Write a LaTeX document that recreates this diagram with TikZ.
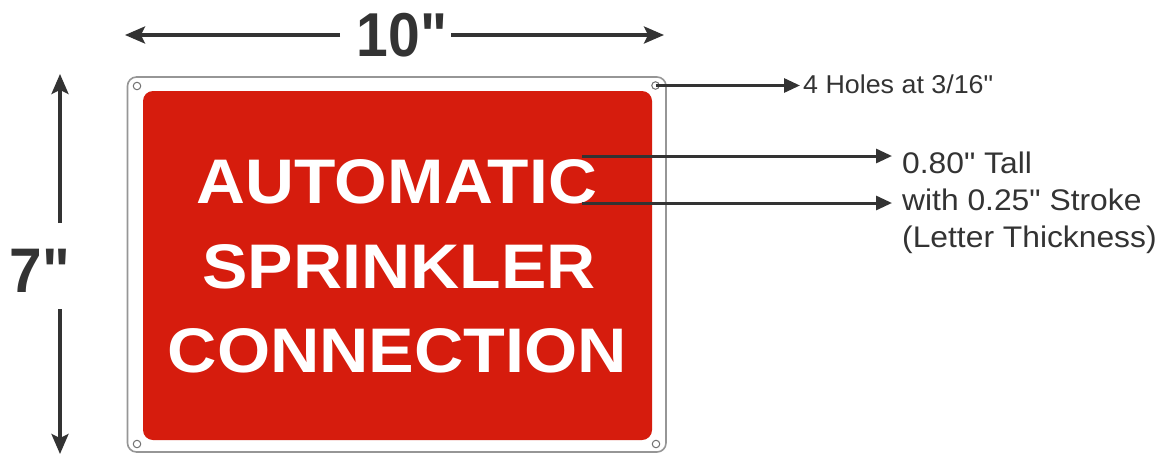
\documentclass[tikz,border=0pt]{standalone}
\usepackage{fontspec}
\setmainfont{Liberation Sans}[Ligatures=TeXOff]
\usetikzlibrary{arrows.meta}
\definecolor{signred}{RGB}{214,28,13}
\definecolor{ink}{RGB}{51,51,51}
\definecolor{rim}{RGB}{150,150,150}
\newcommand{\dq}{\symbol{34}}
\newcommand{\widen}[1]{\scalebox{1.067}[1]{#1}}
\tikzset{
  dimline/.style={draw=ink, line width=3.2pt, -{Stealth[length=20pt,width=17pt,inset=4pt]}},
  ptr/.style={draw=ink, line width=3pt, -{Triangle[length=16pt,width=14pt]}},
  hole/.style={circle, draw=rim!75!black, line width=1pt, minimum size=7.5pt, inner sep=0pt},
  signtext/.style={text=white, font=\fontsize{63}{63}\selectfont\bfseries, anchor=base, inner sep=0pt},
  dimtext/.style={text=ink, font=\fontsize{62}{62}\selectfont\bfseries, anchor=base, inner sep=0pt},
  note/.style={text=ink, font=\fontsize{29.8}{29.8}\selectfont, anchor=base west, inner sep=0pt},
  smallnote/.style={text=ink, font=\fontsize{25.8}{25.8}\selectfont, anchor=base west, inner sep=0pt}
}
\begin{document}
\begin{tikzpicture}[x=1pt,y=-1pt]
\useasboundingbox (0,0) rectangle (1160,453);
% sign plate
\draw[rim, line width=1.6pt, rounded corners=9pt, fill=white] (127.5,77) rectangle (666,452);
\fill[signred, rounded corners=10pt] (143,91) rectangle (652,440);
% holes
\node[hole] (h1) at (137,86) {};
\node[hole] (h2) at (655.5,85.5) {};
\node[hole] (h3) at (137,444) {};
\node[hole] (h4) at (656,444) {};
% sign text
\node[signtext] (l1) at (397,203) {\scalebox{1.075}[1]{AUTOMATIC}};
\node[signtext] (l2) at (399,288) {\scalebox{1.08}[1]{SPRINKLER}};
\node[signtext] (l3) at (397.5,372) {\scalebox{1.085}[1]{CONNECTION}};
% width dimension
\node[dimtext] (w) at (402,56) {\scalebox{0.92}[1]{10\dq}};
\coordinate (wl) at (125,35);
\coordinate (wr) at (664,35);
\coordinate (wli) at (340,35);
\coordinate (wri) at (451,35);
\draw[dimline] (wli) -- (wl);
\draw[dimline] (wri) -- (wr);
% height dimension
\node[dimtext, font=\fontsize{63}{63}\selectfont\bfseries] (h) at (40,292) {\scalebox{0.93}[1]{7\dq}};
\coordinate (ht) at (60,74);
\coordinate (hb) at (60,454);
\coordinate (hti) at (60,223);
\coordinate (hbi) at (60,309);
\draw[dimline] (hti) -- (ht);
\draw[dimline] (hbi) -- (hb);
% notes
\node[smallnote] (holes) at (803,93) {\scalebox{1.04}[1]{4 Holes at 3/16\dq}};
\draw[ptr] (h2.center) -- ([xshift=-3pt]h2.center -| holes.west);
\node[note] (n1) at (902,173) {\widen{0.80\dq{} Tall}};
\node[note] (n2) at (902,210) {\widen{with 0.25\dq{} Stroke}};
\node[note] (n3) at (902,247) {\widen{(Letter Thickness)}};
\coordinate (s1) at (582,156);
\coordinate (s2) at (582,203);
\coordinate (e1) at (892,156);
\coordinate (e2) at (892,203);
\draw[ptr] (s1) -- (e1);
\draw[ptr] (s2) -- (e2);
\end{tikzpicture}
\end{document}
